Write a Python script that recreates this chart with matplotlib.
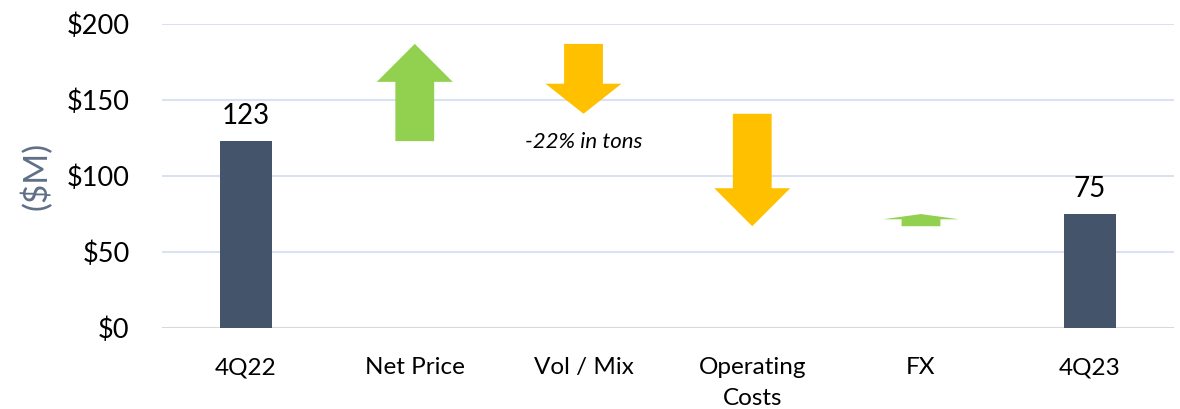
import matplotlib.pyplot as plt
from matplotlib.patches import FancyArrow

categories = ['4Q22', 'Net Price', 'Vol / Mix', 'Operating\nCosts', 'FX', '4Q23']
start_value = 123
changes = [64, -46, -74, 8]
end_value = 75
note = '-22% in tons'

bar_color = '#44546A'
up_color = '#92D050'
down_color = '#FFC000'

plt.rcParams['font.family'] = ['Lato', 'DejaVu Sans']

fig = plt.figure(figsize=(11.8, 4.09), dpi=100)
ax = fig.add_axes([0.137, 0.198, 0.858, 0.743])

# totals
ax.bar([0, 5], [start_value, end_value], width=0.31, color=bar_color, zorder=3)
ax.text(0, start_value + 8, str(start_value), ha='center', va='bottom', fontsize=20)
ax.text(5, end_value + 8, str(end_value), ha='center', va='bottom', fontsize=20)

# bridge arrows
level = start_value
for i, d in enumerate(changes, start=1):
    head = min(25, 0.43 * abs(d))
    ax.add_patch(FancyArrow(i, level, 0, d, width=0.23, head_width=0.45,
                            head_length=head, length_includes_head=True,
                            color=up_color if d > 0 else down_color,
                            lw=0, zorder=3))
    level += d

ax.text(2, 141 - 12, note, ha='center', va='top', fontsize=16, style='italic')

ax.set_xlim(-0.5, 5.5)
ax.set_ylim(0, 200)
ax.set_yticks([0, 50, 100, 150, 200])
ax.set_yticklabels(['$0', '$50', '$100', '$150', '$200'], fontsize=19.5)
ax.set_xticks(range(len(categories)))
ax.set_xticklabels(categories, fontsize=17.5, linespacing=1.6)
ax.tick_params(axis='x', length=0, pad=21)
ax.tick_params(axis='y', length=0, pad=23)
ax.set_ylabel('($M)', fontsize=24, color='#5F6F87', labelpad=10)

for y in [50, 100, 150, 200]:
    ax.axhline(y, color='#D9E1F2', lw=1.5, zorder=1)
ax.axhline(0, color='#D9D9D9', lw=1.5, zorder=2)
for s in ax.spines.values():
    s.set_visible(False)

fig.savefig('out.png', dpi=100)
